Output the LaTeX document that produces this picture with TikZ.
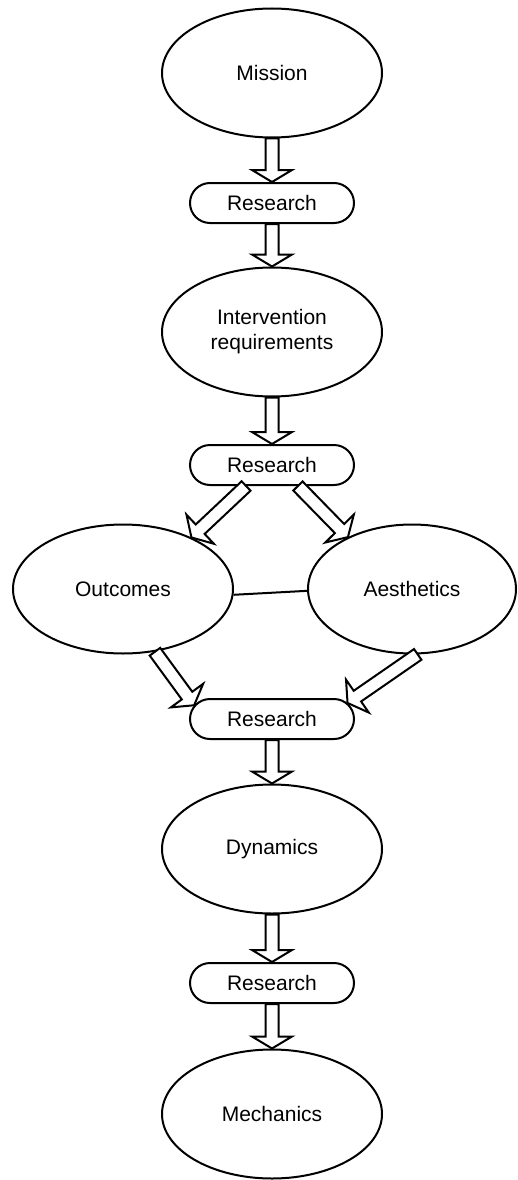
\documentclass[tikz,border=0pt]{standalone}
\usepackage{fontspec}
\setmainfont{Liberation Sans}
\usetikzlibrary{shapes.geometric,shapes.misc,calc}
\tikzset{
  ell/.style={ellipse, draw, line width=2pt, inner sep=0pt, minimum width=220pt, minimum height=129pt, align=center, font=\fontsize{21}{25}\selectfont},
  resbox/.style={rounded rectangle, draw, line width=2pt, inner sep=0pt, minimum width=164pt, minimum height=40pt, font=\fontsize{21}{25}\selectfont},
  arrowbody/.style={draw, line width=2pt, fill=white, line join=miter},
  harrow/.style={
    to path={
      let \p1=($(\tikztotarget)!12pt!(\tikztostart)$) in
      ($(\tikztostart)!6.5pt!90:(\tikztotarget)$) --
      ($(\p1)!6.5pt!90:(\tikztotarget)$) --
      ($(\p1)!20pt!90:(\tikztotarget)$) --
      (\tikztotarget) --
      ($(\p1)!20pt!-90:(\tikztotarget)$) --
      ($(\p1)!6.5pt!-90:(\tikztotarget)$) --
      ($(\tikztostart)!6.5pt!-90:(\tikztotarget)$) -- cycle
    }},
  link/.style={draw, line width=2pt}
}
\begin{document}
\begin{tikzpicture}[x=1pt,y=-1pt]
\useasboundingbox (0,0) rectangle (518,1180);
\node[ell] (m) at (272,73) {Mission};
\node[resbox] (r1) at (272,203) {Research};
\node[ell] (iv) at (272,332) {Intervention\\requirements};
\node[resbox] (r2) at (272,465) {Research};
\node[ell] (o) at (123,589) {Outcomes};
\node[ell, minimum width=208pt] (a) at (412,589) {Aesthetics};
\node[resbox] (r3) at (272,719) {Research};
\node[ell] (d) at (272,849) {Dynamics};
\node[resbox] (r4) at (272,983) {Research};
\node[ell] (mc) at (272,1114) {Mechanics};

\draw[arrowbody] (m.south) to[harrow] (r1.north);
\draw[arrowbody] (r1.south) to[harrow] (iv.north);
\draw[arrowbody] (iv.south) to[harrow] (r2.north);
\draw[arrowbody] (r2.219) to[harrow] (o.37);
\draw[arrowbody] (r2.321) to[harrow] (a.141);
\draw[arrowbody] (o.297) to[harrow] (r3.170);
\draw[arrowbody] (a.275) to[harrow] (r3.12);
\draw[arrowbody] (r3.south) to[harrow] (d.north);
\draw[arrowbody] (d.south) to[harrow] (r4.north);
\draw[arrowbody] (r4.south) to[harrow] (mc.north);
\draw[link] (o.-3) -- (a.181.5);
\end{tikzpicture}
\end{document}
